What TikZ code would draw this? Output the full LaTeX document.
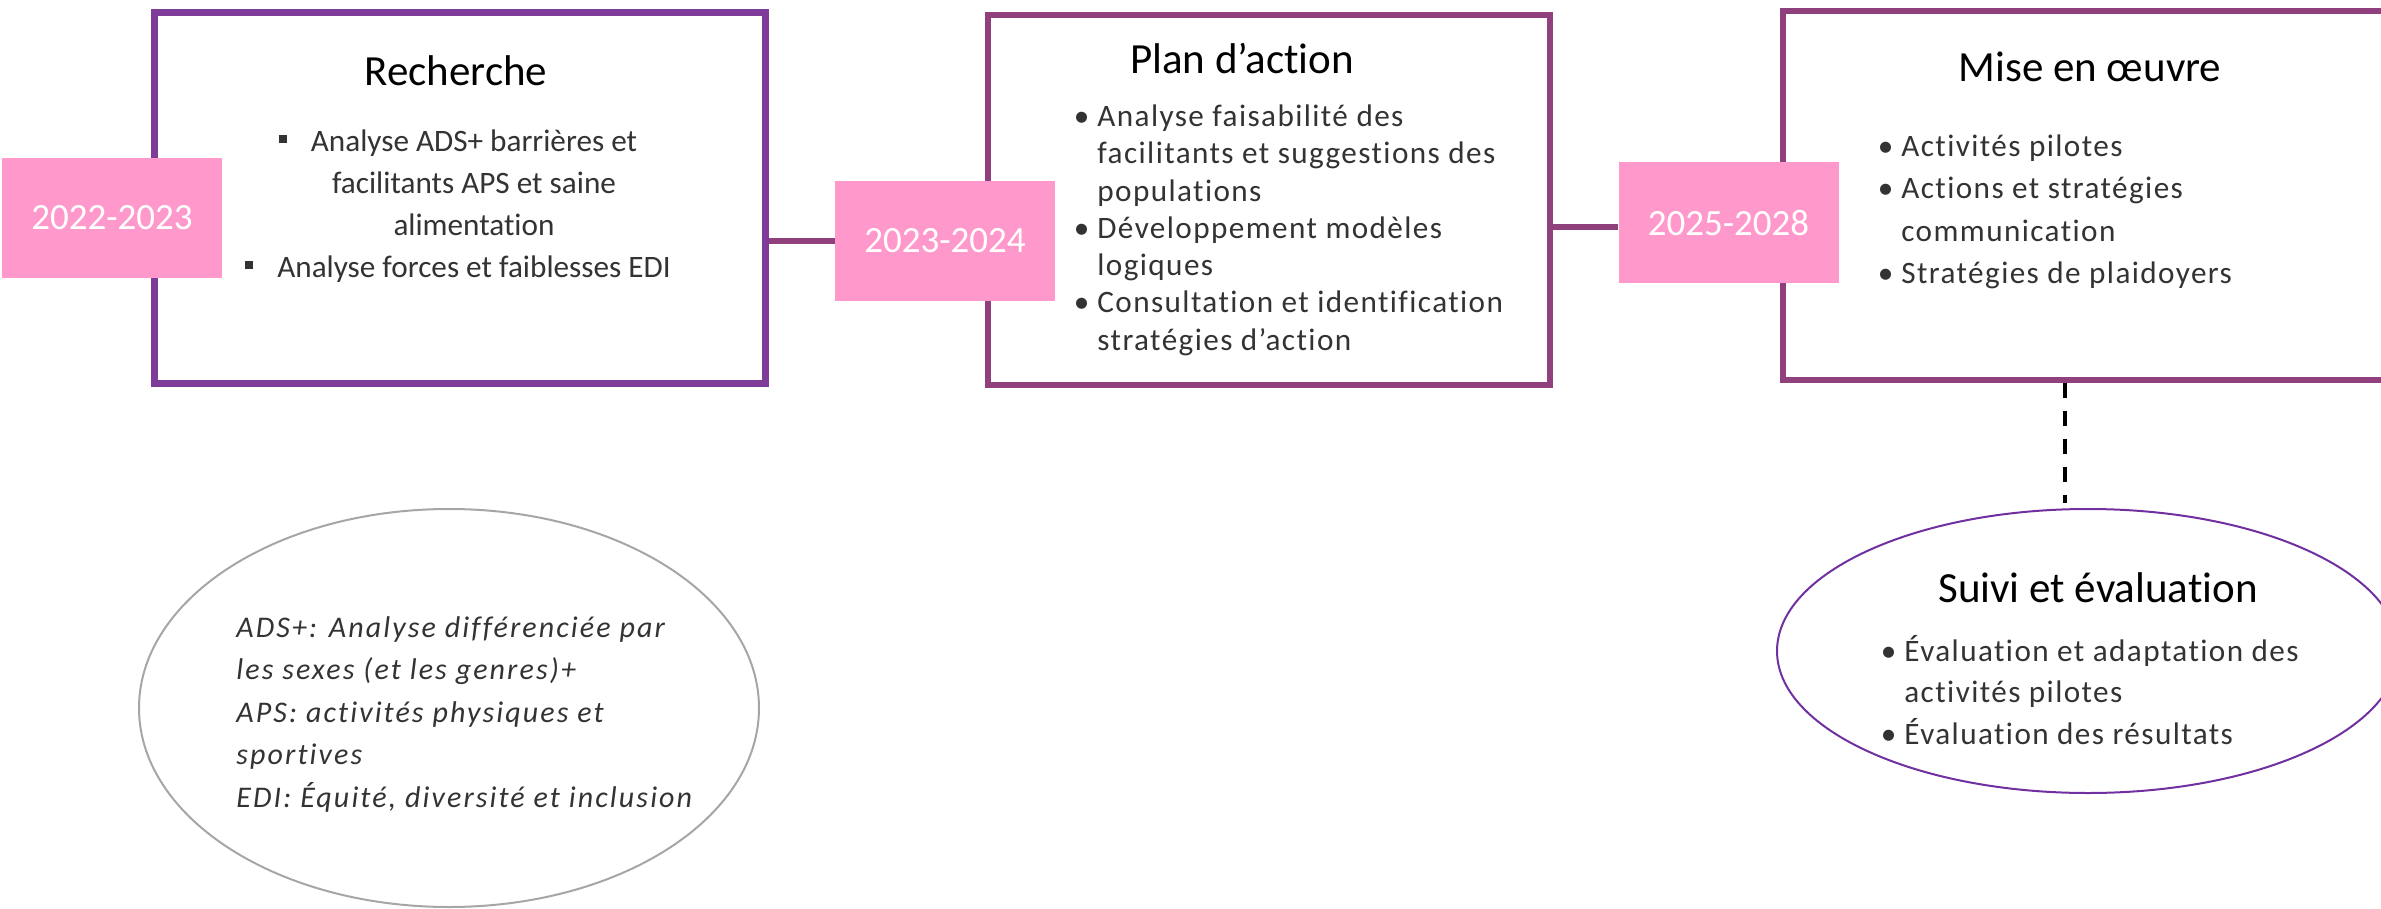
\documentclass[tikz,border=0pt]{standalone}
\usepackage{fontspec}
\setmainfont{Carlito}[Ligatures=NoCommon]
\newfontfamily\espacefont[Ligatures=NoCommon, LetterSpace=4.5]{Carlito}
\newfontfamily\legendefont[Ligatures=NoCommon, LetterSpace=7]{Carlito}
\usetikzlibrary{shapes.geometric}
\definecolor{rose}{RGB}{255,153,204}
\definecolor{violetbord}{RGB}{126,60,152}
\definecolor{prune}{RGB}{145,64,126}
\definecolor{violetsuivi}{RGB}{112,48,160}
\definecolor{grisleg}{RGB}{166,166,166}
\newcommand{\hautl}{\rule{0pt}{13pt}}
\newcommand{\carre}{\llap{\rule[4pt]{4pt}{4pt}\hspace{12pt}}}
\newcommand{\puce}{\llap{\textbullet\hspace{4pt}}}
\tikzset{x=0.5pt, y=-0.5pt,
  phase/.style={rectangle, draw=prune, line width=3pt, fill=white, inner sep=0pt},
  annee/.style={rectangle, fill=rose, text=white, inner sep=0pt, minimum width=110pt, minimum height=60pt, font=\fontsize{18.5}{20}\selectfont},
  titre/.style={anchor=base, inner sep=0pt, font=\fontsize{21.5}{24}\selectfont},
  liste/.style={anchor=north west, align=left, inner sep=0pt, text=black!80, font=\fontsize{15.6}{21}\selectfont},
  lien/.style={draw=prune, line width=3pt},
  bulle/.style={ellipse, draw, line width=1pt, inner sep=0pt}
}

\begin{document}
\begin{tikzpicture}
    \useasboundingbox (0,0) rectangle (2381,909);
    % les trois phases
    \node[phase, draw=violetbord, line width=3.5pt, minimum width=305.75pt, minimum height=185.5pt] (rech) at (459.75,198) {};
    \node[phase, minimum width=280.75pt, minimum height=184.5pt] (plan) at (1269,200) {};
    \node[phase, minimum width=308.5pt, minimum height=184.5pt] (mise) at (2091.5,195.5) {};

    \node[titre] (titrerech) at (456,86) {Recherche};
    \node[liste, anchor=north, align=center] (listerech) at (474,125) {\hautl\carre Analyse ADS+ barrières et\\ facilitants APS et saine\\ alimentation\\ \carre Analyse forces et faiblesses EDI};

    \node[titre] (titreplan) at (1242,74) {Plan d’action};
    \node[liste, font=\espacefont\fontsize{15.6}{18.65}\selectfont] (listeplan) at (1097,100) {\hautl\puce Analyse faisabilité des\\ facilitants et suggestions des\\ populations\\ \puce Développement modèles\\ logiques\\ \puce Consultation et identification\\ stratégies d’action};

    \node[titre] (titremise) at (2090,82) {Mise en œuvre};
    \node[liste, font=\espacefont\fontsize{15.6}{21.15}\selectfont] (listemise) at (1901,130) {\hautl\puce Activités pilotes\\ \puce Actions et stratégies\\ communication\\ \puce Stratégies de plaidoyers};

    % dates et liens
    \node[annee] (annee1) at (112,218) {2022-2023};
    \node[annee] (annee2) at (945,241) {2023-2024};
    \node[annee, minimum height=60.5pt] (annee3) at (1728.5,222.5) {2025-2028};
    \draw[lien] (annee2.west) -- (annee2.west -| rech.east);
    \draw[lien] ([yshift=-2.5pt]annee3.west) -- ([yshift=-2.5pt]annee3.west -| plan.east);

    % suivi
    \node[bulle, draw=violetsuivi, minimum width=311pt, minimum height=142pt] (suivi) at (2088,651) {};
    \coordinate (tiret) at (2065,503);
    \draw[line width=2pt, dash pattern=on 7.5pt off 6.5pt] (tiret |- mise.south) -- (tiret);
    \node[titre] (titresuivi) at (2098,602) {Suivi et évaluation};
    \node[liste, font=\espacefont\fontsize{15.6}{20.75}\selectfont] (listesuivi) at (1904,635) {\hautl\puce Évaluation et adaptation des\\ activités pilotes\\ \puce Évaluation des résultats};

    % legende
    \node[bulle, draw=grisleg, minimum width=310pt, minimum height=199pt] (legende) at (449,708) {};
    \node[liste, font=\legendefont\itshape\fontsize{15}{21.25}\selectfont] (textelegende) at (236,611) {\hautl ADS+: Analyse différenciée par\\ les sexes (et les genres)+\\ APS: activités physiques et\\ sportives\\ EDI: Équité, diversité et inclusion};
\end{tikzpicture}
\end{document}
